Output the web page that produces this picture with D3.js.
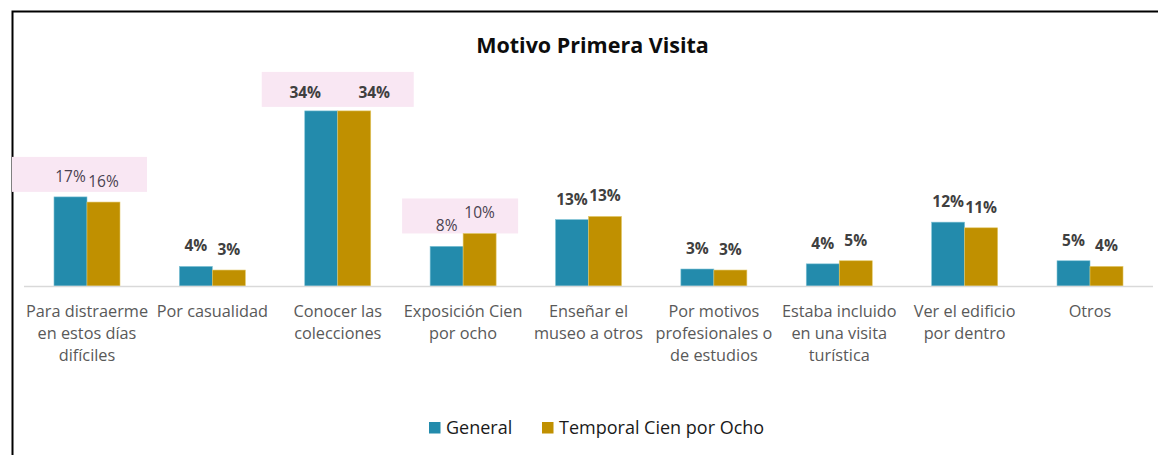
<!DOCTYPE html>
<html><head><meta charset="utf-8">
<script src="https://cdn.jsdelivr.net/npm/d3@7"></script>
<style>
html,body{margin:0;padding:0;background:#fff;}
svg{display:block;font-family:"Open Sans",sans-serif;}
</style></head>
<body>
<svg id="chart" width="1158" height="455"></svg>
<script>
const categories = [
  ["Para distraerme","en estos días","difíciles"],
  ["Por casualidad"],
  ["Conocer las","colecciones"],
  ["Exposición Cien","por ocho"],
  ["Enseñar el","museo a otros"],
  ["Por motivos","profesionales o","de estudios"],
  ["Estaba incluido","en una visita","turística"],
  ["Ver el edificio","por dentro"],
  ["Otros"]
];
const seriesNames = ["General", "Temporal Cien por Ocho"];
const generalValues  = [17.3, 3.8, 34.0, 7.7, 12.9, 3.3, 4.3, 12.4, 4.9];
const temporalValues = [16.3, 3.1, 34.0, 10.2, 13.5, 3.1, 4.9, 11.3, 3.8];
const generalLabels  = ["17%","4%","34%","8%","13%","3%","4%","12%","5%"];
const temporalLabels = ["16%","3%","34%","10%","13%","3%","5%","11%","4%"];
const highlighted = [0, 3]; // categories whose labels are shown plain inside pink boxes
const boxed = [0, 2, 3];    // categories with a pink highlight box
const title = "Motivo Primera Visita";

const colors = ["#238bac", "#c09000"];
const svg = d3.select("#chart");

// frame
svg.append("path").attr("d","M12.5,455 V11.5 H1158").attr("fill","none").attr("stroke","#000").attr("stroke-width",2);

const idx = d3.range(categories.length);
const x = d3.scaleBand().domain(idx).range([24.3, 1152.7]).paddingInner(0).paddingOuter(0);
const inner = d3.scaleBand().domain([0,1]).range([0, 66]);
const y = d3.scaleLinear().domain([0, 40]).range([286, 80]);

// pink boxes (behind labels)
const boxExt = {0:[-75,60], 2:[-76,76], 3:[-61,55]};
const boxY = {0:[-40,-5], 2:[-39,-4], 3:[-35,0]};
boxed.forEach(i => {
  const c = x(i) + x.bandwidth()/2;
  const top = y(Math.max(generalValues[i], temporalValues[i]));
  svg.append("rect")
    .attr("x", c + boxExt[i][0]).attr("width", boxExt[i][1]-boxExt[i][0])
    .attr("y", top + boxY[i][0]).attr("height", boxY[i][1]-boxY[i][0])
    .attr("fill", "#f9e7f3");
});

// title
svg.append("text").attr("x", 592.5).attr("y", 53).attr("text-anchor","middle")
  .attr("font-size", 21.5).attr("font-weight", 700).attr("fill","#0d0d0d").text(title);

// bars
const series = [generalValues, temporalValues];
const labels = [generalLabels, temporalLabels];
series.forEach((vals, s) => {
  svg.append("g").selectAll("rect").data(idx).join("rect")
    .attr("x", i => x(i) + x.bandwidth()/2 - 33 + inner(s))
    .attr("width", inner.bandwidth())
    .attr("y", i => y(vals[i]))
    .attr("height", i => y(0) - y(vals[i]))
    .attr("fill", colors[s])
    .attr("stroke", s === 0 ? "#7fc3d6" : "#e2c766").attr("stroke-width", 0.6);
});

// axis line
svg.append("line").attr("x1", 24).attr("x2", 1153).attr("y1", 286.5).attr("y2", 286.5)
  .attr("stroke","#d9d9d9").attr("stroke-width",1.5);

// data labels (labels of the "Conocer las colecciones" pair were moved apart in the original)
const labelShift = {2: [-16, 20]};
const labelLift = {2: 13};
series.forEach((vals, s) => {
  svg.append("g").selectAll("text").data(idx).join("text")
    .attr("x", i => x(i) + x.bandwidth()/2 - 33 + inner(s) + inner.bandwidth()/2 + (labelShift[i] ? labelShift[i][s] : 0))
    .attr("y", i => y(vals[i]) - (labelLift[i] || 15))
    .attr("text-anchor","middle")
    .attr("font-size", 15.5)
    .attr("font-weight", i => highlighted.includes(i) ? 400 : 700)
    .attr("fill", i => highlighted.includes(i) ? "#4a4250" : "#404040")
    .text(i => labels[s][i]);
});

// category labels
const cat = svg.append("g").selectAll("text").data(idx).join("text")
  .attr("x", i => x(i) + x.bandwidth()/2)
  .attr("y", 317)
  .attr("text-anchor","middle").attr("font-size", 16.3).attr("fill","#595959");
cat.each(function(i){
  const t = d3.select(this);
  categories[i].forEach((line, k) => {
    t.append("tspan").attr("x", x(i) + x.bandwidth()/2).attr("dy", k === 0 ? 0 : 22).text(line);
  });
});

// legend
const legend = svg.append("g");
const legendItems = [{name: seriesNames[0], x: 429}, {name: seriesNames[1], x: 542}];
legendItems.forEach((d, s) => {
  legend.append("rect").attr("x", d.x).attr("y", 422).attr("width", 11.5).attr("height", 11.5).attr("fill", colors[s]);
  legend.append("text").attr("x", d.x + 17).attr("y", 433.5).attr("font-size", 18).attr("fill","#1a1a1a").text(d.name);
});
</script>
</body></html>
